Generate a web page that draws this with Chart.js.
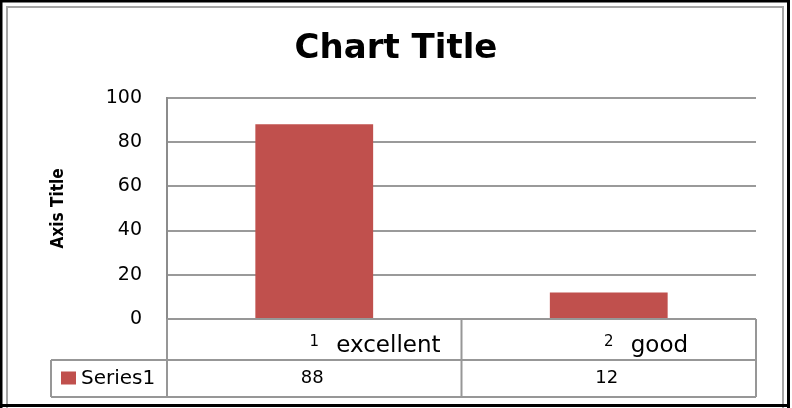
<!DOCTYPE html>
<html>
<head>
<meta charset="utf-8">
<script src="https://cdn.jsdelivr.net/npm/chart.js@4"></script>
<style>
  html, body { margin: 0; padding: 0; background: #fff; }
  canvas { display: block; }
</style>
</head>
<body>
<canvas id="c" width="792" height="408"></canvas>
<script>
// ---- data ----
const categoryNumbers = ['1', '2'];
const categoryNames = ['excellent', 'good'];
const seriesName = 'Series1';
const series1 = [88, 12];
const yTicks = [0, 20, 40, 60, 80, 100];

const BAR_COLOR = '#C0504D';
const GRID_COLOR = '#9a9a9a';
const TABLE_COLOR = '#979797';
const TEXT_COLOR = '#000000';
const FONT = "'DejaVu Sans', sans-serif";

const framePlugin = {
  id: 'frame',
  beforeDraw(chart) {
    const ctx = chart.ctx;
    const W = chart.width, H = chart.height;
    ctx.save();
    ctx.fillStyle = '#ffffff';
    ctx.fillRect(0, 0, W, H);
    // inner gray chart border
    ctx.strokeStyle = '#a6a6a6';
    ctx.lineWidth = 2;
    ctx.beginPath();
    ctx.moveTo(7, H + 5);
    ctx.lineTo(7, 7);
    ctx.lineTo(783, 7);
    ctx.lineTo(783, H + 5);
    ctx.stroke();
    // outer black frame
    ctx.fillStyle = '#000000';
    ctx.fillRect(0, 0, 790, 2.5);
    ctx.fillRect(0, 0, 2.5, H);
    ctx.fillRect(787, 0, 3, H);
    ctx.fillRect(0, 404, 790, 3);
    ctx.restore();
  }
};

const tablePlugin = {
  id: 'dataTable',
  afterDraw(chart) {
    const ctx = chart.ctx;
    const area = chart.chartArea;
    const xs = chart.scales.x;
    const n = categoryNames.length;
    const half = n > 1 ? (xs.getPixelForValue(1) - xs.getPixelForValue(0)) / 2 : (area.right - area.left) / 2;
    const r0 = area.bottom;
    const r1 = area.bottom + 41;
    const r2 = area.bottom + 78;
    const tableLeft = 51;

    ctx.save();
    ctx.strokeStyle = TABLE_COLOR;
    ctx.lineWidth = 2;
    ctx.beginPath();
    ctx.moveTo(area.left, r0); ctx.lineTo(area.right, r0);
    ctx.moveTo(tableLeft, r1); ctx.lineTo(area.right, r1);
    ctx.moveTo(tableLeft, r2); ctx.lineTo(area.right, r2);
    ctx.moveTo(tableLeft, r1); ctx.lineTo(tableLeft, r2);
    ctx.moveTo(area.left, r0); ctx.lineTo(area.left, r2);
    for (let i = 0; i < n - 1; i++) {
      const b = xs.getPixelForValue(i) + half;
      ctx.moveTo(b, r0); ctx.lineTo(b, r2);
    }
    ctx.moveTo(area.right, r0); ctx.lineTo(area.right, r2);
    ctx.stroke();

    ctx.fillStyle = TEXT_COLOR;
    for (let i = 0; i < n; i++) {
      const cx = xs.getPixelForValue(i);
      ctx.font = '15px ' + FONT;
      ctx.textAlign = 'center';
      ctx.textBaseline = 'alphabetic';
      ctx.fillText(categoryNumbers[i], cx, r0 + 27);
      ctx.font = '23px ' + FONT;
      ctx.textAlign = 'left';
      ctx.fillText(categoryNames[i], cx + 22, r0 + 33);
      ctx.font = '18px ' + FONT;
      ctx.textAlign = 'center';
      ctx.textBaseline = 'middle';
      ctx.fillText(String(series1[i]), cx - 2, (r1 + r2) / 2);
    }
    ctx.fillStyle = BAR_COLOR;
    ctx.fillRect(61, (r1 + r2) / 2 - 7, 15, 13);
    ctx.fillStyle = TEXT_COLOR;
    ctx.font = '20px ' + FONT;
    ctx.textAlign = 'left';
    ctx.textBaseline = 'middle';
    ctx.fillText(seriesName, 81, (r1 + r2) / 2);
    ctx.restore();
  }
};

new Chart(document.getElementById('c'), {
  type: 'bar',
  data: {
    labels: categoryNames,
    datasets: [{
      label: seriesName,
      data: series1,
      backgroundColor: BAR_COLOR,
      borderWidth: 0,
      barPercentage: 0.4,
      categoryPercentage: 1.0,
      yAxisID: 'y'
    }]
  },
  options: {
    responsive: false,
    animation: false,
    layout: { padding: 0 },
    plugins: {
      legend: { display: false },
      tooltip: { enabled: false },
      title: {
        display: true,
        text: 'Chart Title',
        color: '#000',
        font: { family: FONT, size: 34, weight: 'bold', lineHeight: 1.2 },
        padding: { top: 29, bottom: 28 }
      }
    },
    scales: {
      x: {
        grid: { display: false },
        border: { display: false },
        ticks: { display: false },
        afterFit(scale) { scale.height = 89; }
      },
      y: {
        position: 'left',
        min: 0,
        max: 100,
        afterBuildTicks(scale) { scale.ticks = yTicks.map(v => ({ value: v })); },
        grid: { color: GRID_COLOR, lineWidth: 2, drawTicks: false },
        border: { display: true, color: '#8c8c8c', width: 2 },
        ticks: {
          padding: 25,
          color: TEXT_COLOR,
          font: { family: FONT, size: 19 }
        },
        title: {
          display: true,
          text: 'Axis Title',
          color: '#000',
          font: { family: "'DejaVu Sans Condensed', 'Liberation Sans Narrow', sans-serif", size: 17, weight: 'bold', lineHeight: 1.2 },
          padding: { top: 48 }
        },
        afterFit(scale) { scale.width = 167; }
      },
      spacer: {
        type: 'linear',
        position: 'right',
        display: true,
        min: 0,
        max: 100,
        grid: { display: false, drawOnChartArea: false },
        border: { display: false },
        ticks: { display: false },
        afterFit(scale) { scale.width = 36; }
      }
    }
  },
  plugins: [framePlugin, tablePlugin]
});
</script>
</body>
</html>
